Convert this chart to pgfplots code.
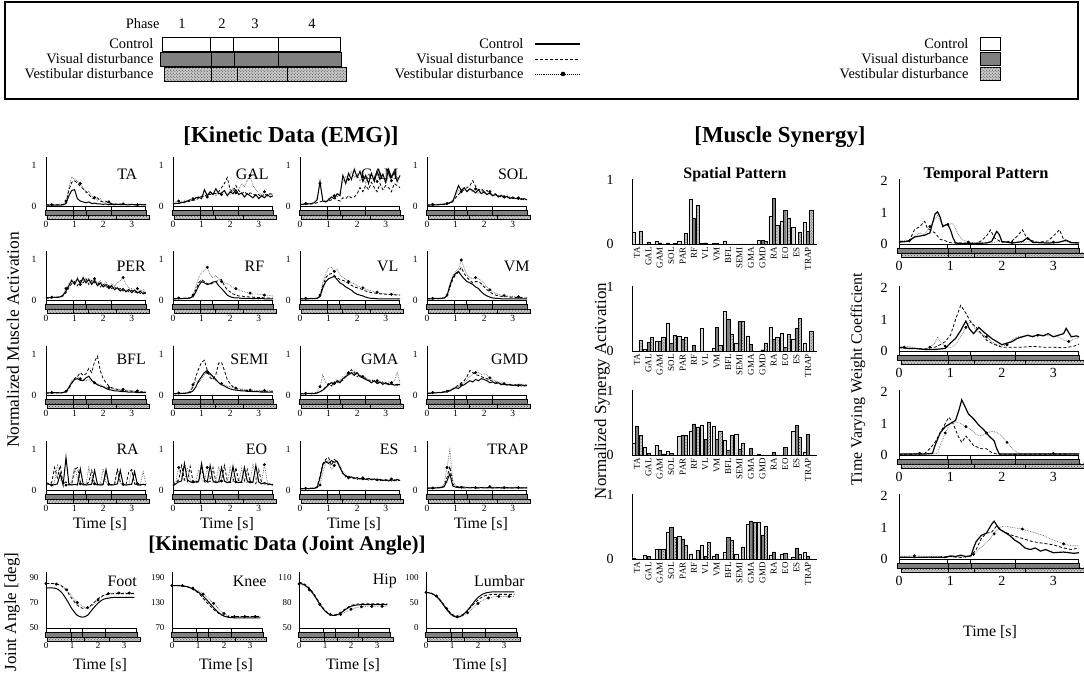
\documentclass[border=0pt]{standalone}
\usepackage{fontspec}
\setmainfont{Liberation Serif}
\usepackage{pgfplots}
\pgfplotsset{compat=1.18}
\usepackage{pgfplotstable}
\usetikzlibrary{patterns}

\newcommand\fs[1]{\fontsize{#1}{#1}\selectfont}

\tikzset{
 pb/.style={line width=0.6bp, draw=black},
 vestfill/.style={fill=black!22, postaction={pattern=crosshatch dots, pattern color=black!75}},
}

\pgfplotsset{
 ctrl/.style={black, line width=1bp, no markers},
 vis/.style={black, line width=0.8bp, dash pattern=on 3bp off 2bp, no markers},
 vest/.style={black!60, line width=0.7bp, densely dotted, mark=*, mark size=1.1bp, mark repeat=5, mark phase=3, mark options={solid, fill=black, draw=black}},
 base/.style={scale only axis, axis lines=left, axis line style={-, line width=0.8bp}, x axis line style={draw=none}, major tick length=0pt, clip=false, xmin=0, xmax=3.5, xtick={0,1,2,3}, /pgf/number format/assume math mode=true, tick label style={font=\fs{9.5}}},
 emg/.style={base, width=100bp, height=49bp, ymin=0, ymax=1.2, ytick={0,1}, xticklabel style={yshift=-11.5bp}, yticklabel style={xshift=-6bp}},
 ja/.style={base, width=91bp, height=56bp, tick label style={font=\fs{9}}, xticklabel style={yshift=-11.5bp}, yticklabel style={xshift=-4bp}},
 tp/.style={base, width=180bp, height=64.6bp, ymin=0, ymax=2.05, ytick={0,1,2}, tick label style={font=\fs{14}}, xticklabel style={yshift=-14bp}, yticklabel style={xshift=-8bp}},
 sp/.style={scale only axis, axis lines=left, axis line style={-, line width=0.8bp}, x axis line style={line width=0.5bp}, major tick length=0pt, clip=false, width=185bp, height=65bp, xmin=-0.44, xmax=15.8, ymin=0, ymax=1.02, ytick={0,1}, xtick={0,...,15}, xticklabels={TA,GAL,GAM,SOL,PAR,RF,VL,VM,BFL,SEMI,GMA,GMD,RA,EO,ES,TRAP}, xticklabel style={rotate=90, anchor=east, font=\fs{9}}, yticklabel style={font=\fs{14}, xshift=-15bp}, /pgf/number format/assume math mode=true},
}

\newcommand{\phasebars}[1]{%
 \draw[pb, fill=white] (axis cs:0,#1) rectangle ([yshift=-4.5bp]axis cs:3.49,#1);
 \draw[pb] (axis cs:0.94,#1) -- ([yshift=-4.5bp]axis cs:0.94,#1);
 \draw[pb] (axis cs:1.39,#1) -- ([yshift=-4.5bp]axis cs:1.39,#1);
 \draw[pb] (axis cs:2.27,#1) -- ([yshift=-4.5bp]axis cs:2.27,#1);
 \draw[pb, fill=black!50] ([yshift=-4.5bp]axis cs:-0.04,#1) rectangle ([yshift=-9bp]axis cs:3.51,#1);
 \draw[pb] ([yshift=-4.5bp]axis cs:0.96,#1) -- ([yshift=-9bp]axis cs:0.96,#1);
 \draw[pb] ([yshift=-4.5bp]axis cs:1.41,#1) -- ([yshift=-9bp]axis cs:1.41,#1);
 \draw[pb] ([yshift=-4.5bp]axis cs:2.27,#1) -- ([yshift=-9bp]axis cs:2.27,#1);
 \draw[pb, vestfill] ([yshift=-9bp]axis cs:0.04,#1) rectangle ([yshift=-13bp]axis cs:3.61,#1);
 \draw[pb] ([yshift=-9bp]axis cs:0.96,#1) -- ([yshift=-13bp]axis cs:0.96,#1);
 \draw[pb] ([yshift=-9bp]axis cs:1.47,#1) -- ([yshift=-13bp]axis cs:1.47,#1);
 \draw[pb] ([yshift=-9bp]axis cs:2.45,#1) -- ([yshift=-13bp]axis cs:2.45,#1);
}

\newcommand{\emgpanel}[6]{%
\begin{axis}[emg, at={(#1bp,#2bp)}, anchor=south west]
\addplot[vest] table[x=t,y=s]{#3};
\addplot[vis] table[x=t,y=v]{#3};
\addplot[ctrl] table[x=t,y=c]{#3};
\phasebars{0}
\node[anchor=east, font=\fs{16}, inner sep=0pt] at (axis cs:#5,#6) {#4};
\end{axis}}

\newcommand{\japanel}[8]{% x, ymin, ymax, ytick, table, label, rel x
\begin{axis}[ja, at={(#1bp,46bp)}, anchor=south west, ymin=#2, ymax=#3, ytick={#4}]
\addplot[vest, mark repeat=2, mark phase=1, smooth] table[x=t,y=s]{#5};
\addplot[vis, smooth] table[x=t,y=v]{#5};
\addplot[ctrl, smooth] table[x=t,y=c]{#5};
\phasebars{#2}
\node[anchor=east, font=\fs{16}, inner sep=0pt] at (rel axis cs:#7,0.84) {#6};
\end{axis}}

\newcommand{\tppanel}[4]{%
\begin{axis}[tp, at={(899bp,#1bp)}, anchor=south west]
\addplot[vest, mark repeat=4, mark phase=2] coordinates {#4};
\addplot[vis] coordinates {#3};
\addplot[ctrl, line width=1.2bp] coordinates {#2};
\phasebars{0}
\end{axis}}

\newcommand{\sppanel}[2]{%
\begin{axis}[sp, at={(632bp,#1bp)}, anchor=south west]
\addplot[ybar, bar width=3.2bp, bar shift=-3.4bp, fill=black!15, draw=black, line width=0.4bp] table[x=i,y=c]{#2};
\addplot[ybar, bar width=3.2bp, bar shift=0bp, fill=black!50, draw=black, line width=0.4bp] table[x=i,y=v]{#2};
\addplot[ybar, bar width=3.2bp, bar shift=3.4bp, draw=black, line width=0.4bp, vestfill] table[x=i,y=s]{#2};
\end{axis}}

% ---------------- EMG data: t control visual vestibular
\pgfplotstableread{
t c v s
0.0 .02 .02 .03
0.1 .02 .03 .02
0.2 .03 .02 .03
0.3 .02 .03 .02
0.4 .03 .02 .04
0.5 .02 .03 .03
0.6 .03 .04 .04
0.7 .06 .08 .12
0.8 .25 .38 .45
0.9 .38 .58 .72
1.0 .40 .62 .66
1.1 .18 .56 .60
1.2 .12 .48 .55
1.3 .10 .42 .44
1.4 .08 .36 .32
1.5 .10 .28 .36
1.6 .06 .20 .24
1.7 .07 .17 .21
1.8 .05 .20 .14
1.9 .05 .12 .18
2.0 .04 .10 .10
2.1 .05 .12 .08
2.2 .03 .07 .10
2.3 .04 .06 .06
2.4 .03 .05 .07
2.5 .04 .04 .05
2.6 .03 .05 .04
2.7 .04 .03 .05
2.8 .03 .04 .04
2.9 .03 .03 .05
3.0 .04 .04 .03
3.1 .03 .03 .04
3.2 .03 .04 .03
3.3 .04 .03 .04
3.4 .03 .03 .03
3.5 .03 .04 .03
}\tabTA
\pgfplotstableread{
t c v s
0.0 .05 .05 .08
0.1 .06 .07 .10
0.2 .07 .06 .12
0.3 .08 .09 .10
0.4 .10 .08 .14
0.5 .12 .10 .12
0.6 .15 .12 .16
0.7 .14 .15 .18
0.8 .20 .14 .22
0.9 .22 .20 .18
1.0 .18 .24 .25
1.1 .40 .22 .28
1.2 .25 .30 .22
1.3 .35 .28 .35
1.4 .28 .32 .30
1.5 .42 .30 .25
1.6 .30 .35 .32
1.7 .32 .45 .28
1.8 .38 .55 .35
1.9 .25 .70 .30
2.0 .35 .40 .28
2.1 .30 .35 .45
2.2 .40 .50 .32
2.3 .28 .38 .40
2.4 .32 .30 .55
2.5 .22 .35 .48
2.6 .30 .28 .62
2.7 .25 .32 .75
2.8 .20 .30 .50
2.9 .28 .25 .40
3.0 .18 .28 .32
3.1 .25 .22 .28
3.2 .20 .30 .35
3.3 .28 .25 .25
3.4 .22 .30 .32
3.5 .25 .28 .28
}\tabGAL
\pgfplotstableread{
t c v s
0.0 .04 .03 .05
0.1 .04 .04 .05
0.2 .05 .04 .06
0.3 .05 .05 .06
0.4 .06 .05 .07
0.5 .08 .06 .08
0.6 .15 .08 .20
0.7 .60 .10 .55
0.8 .12 .12 .15
0.9 .10 .10 .12
1.0 .15 .12 .18
1.1 .22 .15 .20
1.2 .18 .20 .25
1.3 .30 .15 .22
1.4 .25 .12 .35
1.5 .75 .20 .60
1.6 .55 .18 .72
1.7 .80 .25 .65
1.8 .65 .20 .85
1.9 .90 .22 .70
2.0 .70 .30 .78
2.1 .85 .45 .60
2.2 .60 .35 .72
2.3 .75 .50 .55
2.4 .55 .40 .80
2.5 .80 .58 .65
2.6 .60 .45 .75
2.7 .85 .35 .60
2.8 .65 .55 .82
2.9 .78 .40 .70
3.0 .58 .50 .55
3.1 .90 .45 .75
3.2 .70 .35 .62
3.3 .82 .55 .85
3.4 .60 .50 .70
3.5 .75 .45 .65
}\tabGAM
\pgfplotstableread{
t c v s
0.0 .02 .02 .03
0.1 .03 .02 .03
0.2 .02 .03 .04
0.3 .03 .03 .03
0.4 .03 .04 .04
0.5 .04 .03 .05
0.6 .04 .05 .05
0.7 .05 .06 .06
0.8 .08 .07 .09
0.9 .10 .12 .14
1.0 .30 .20 .25
1.1 .50 .28 .40
1.2 .38 .35 .35
1.3 .45 .40 .42
1.4 .35 .45 .38
1.5 .42 .50 .40
1.6 .38 .62 .35
1.7 .32 .48 .42
1.8 .40 .40 .30
1.9 .30 .42 .38
2.0 .35 .35 .32
2.1 .28 .38 .28
2.2 .32 .30 .35
2.3 .25 .28 .26
2.4 .28 .30 .30
2.5 .22 .25 .24
2.6 .26 .22 .28
2.7 .20 .25 .22
2.8 .24 .20 .25
2.9 .18 .22 .20
3.0 .22 .18 .22
3.1 .18 .20 .18
3.2 .20 .16 .20
3.3 .16 .18 .17
3.4 .18 .15 .18
3.5 .15 .16 .16
}\tabSOL
\pgfplotstableread{
t c v s
0.0 .05 .04 .06
0.1 .06 .05 .05
0.2 .05 .06 .07
0.3 .07 .06 .06
0.4 .06 .07 .08
0.5 .08 .07 .07
0.6 .12 .10 .15
0.7 .22 .18 .28
0.8 .35 .30 .40
0.9 .48 .40 .50
1.0 .38 .45 .42
1.1 .52 .35 .55
1.2 .40 .48 .38
1.3 .55 .42 .50
1.4 .42 .52 .45
1.5 .50 .38 .55
1.6 .38 .48 .40
1.7 .48 .42 .52
1.8 .35 .45 .38
1.9 .42 .32 .48
2.0 .32 .40 .35
2.1 .38 .30 .45
2.2 .28 .35 .32
2.3 .35 .28 .40
2.4 .25 .32 .35
2.5 .30 .25 .42
2.6 .22 .28 .48
2.7 .28 .22 .55
2.8 .20 .25 .38
2.9 .26 .20 .30
3.0 .18 .24 .28
3.1 .24 .18 .25
3.2 .17 .22 .28
3.3 .22 .16 .22
3.4 .15 .20 .25
3.5 .18 .15 .20
}\tabPER
\pgfplotstableread{
t c v s
0.0 .03 .03 .04
0.1 .03 .04 .03
0.2 .04 .03 .05
0.3 .03 .04 .04
0.4 .04 .04 .05
0.5 .04 .05 .05
0.6 .05 .05 .06
0.7 .08 .10 .12
0.8 .20 .25 .35
0.9 .35 .42 .55
1.0 .45 .50 .68
1.1 .42 .45 .72
1.2 .38 .40 .80
1.3 .40 .38 .62
1.4 .44 .42 .55
1.5 .45 .45 .60
1.6 .35 .48 .52
1.7 .28 .50 .45
1.8 .20 .35 .42
1.9 .12 .25 .40
2.0 .08 .20 .35
2.1 .06 .15 .30
2.2 .05 .12 .28
2.3 .05 .10 .25
2.4 .04 .10 .22
2.5 .04 .08 .20
2.6 .04 .08 .18
2.7 .04 .07 .17
2.8 .03 .07 .15
2.9 .04 .06 .15
3.0 .03 .06 .14
3.1 .04 .06 .13
3.2 .03 .05 .12
3.3 .03 .05 .12
3.4 .03 .05 .11
3.5 .03 .05 .10
}\tabRF
\pgfplotstableread{
t c v s
0.0 .03 .03 .04
0.1 .03 .03 .03
0.2 .03 .04 .04
0.3 .03 .03 .04
0.4 .04 .03 .04
0.5 .03 .04 .04
0.6 .04 .04 .05
0.7 .08 .10 .12
0.8 .30 .35 .45
0.9 .45 .55 .65
1.0 .52 .62 .78
1.1 .55 .65 .80
1.2 .58 .60 .70
1.3 .50 .55 .75
1.4 .42 .50 .62
1.5 .38 .48 .55
1.6 .32 .45 .50
1.7 .28 .40 .45
1.8 .24 .36 .42
1.9 .18 .32 .40
2.0 .14 .30 .35
2.1 .12 .28 .32
2.2 .10 .25 .30
2.3 .07 .22 .27
2.4 .05 .20 .24
2.5 .04 .18 .22
2.6 .04 .17 .20
2.7 .03 .16 .19
2.8 .03 .15 .17
2.9 .03 .15 .16
3.0 .03 .14 .15
3.1 .03 .14 .14
3.2 .03 .13 .14
3.3 .03 .13 .13
3.4 .03 .12 .13
3.5 .03 .12 .12
}\tabVL
\pgfplotstableread{
t c v s
0.0 .03 .03 .04
0.1 .03 .04 .03
0.2 .03 .03 .04
0.3 .04 .03 .04
0.4 .03 .04 .04
0.5 .04 .04 .05
0.6 .05 .05 .05
0.7 .10 .10 .12
0.8 .35 .30 .40
0.9 .55 .50 .60
1.0 .65 .62 .70
1.1 .70 .68 .75
1.2 .60 .80 .98
1.3 .52 .65 .78
1.4 .45 .55 .62
1.5 .42 .48 .55
1.6 .38 .42 .52
1.7 .32 .45 .55
1.8 .28 .45 .52
1.9 .20 .40 .48
2.0 .14 .32 .40
2.1 .10 .25 .32
2.2 .07 .20 .25
2.3 .05 .15 .20
2.4 .04 .12 .16
2.5 .04 .10 .14
2.6 .03 .09 .12
2.7 .03 .08 .11
2.8 .03 .08 .10
2.9 .03 .07 .09
3.0 .03 .07 .09
3.1 .03 .06 .08
3.2 .03 .06 .08
3.3 .03 .06 .07
3.4 .03 .05 .07
3.5 .03 .05 .07
}\tabVM
\pgfplotstableread{
t c v s
0.0 .05 .04 .06
0.1 .05 .05 .05
0.2 .05 .05 .06
0.3 .06 .05 .05
0.4 .05 .06 .06
0.5 .05 .05 .06
0.6 .06 .06 .07
0.7 .08 .08 .09
0.8 .18 .15 .20
0.9 .30 .28 .35
1.0 .38 .40 .42
1.1 .40 .45 .45
1.2 .36 .55 .40
1.3 .35 .48 .38
1.4 .42 .52 .35
1.5 .46 .65 .38
1.6 .36 .55 .32
1.7 .30 .82 .30
1.8 .25 .95 .28
1.9 .22 .60 .25
2.0 .20 .40 .22
2.1 .16 .30 .20
2.2 .13 .22 .18
2.3 .12 .18 .16
2.4 .10 .15 .14
2.5 .10 .14 .15
2.6 .09 .12 .13
2.7 .08 .11 .14
2.8 .08 .10 .12
2.9 .07 .10 .12
3.0 .07 .09 .11
3.1 .07 .09 .10
3.2 .06 .08 .10
3.3 .06 .08 .09
3.4 .06 .08 .09
3.5 .06 .07 .09
}\tabBFL
\pgfplotstableread{
t c v s
0.0 .03 .03 .04
0.1 .03 .04 .04
0.2 .04 .03 .05
0.3 .04 .04 .04
0.4 .04 .04 .05
0.5 .05 .05 .06
0.6 .06 .08 .10
0.7 .10 .20 .25
0.8 .20 .45 .35
0.9 .35 .65 .30
1.0 .45 .80 .40
1.1 .55 .85 .50
1.2 .60 .60 .55
1.3 .52 .42 .48
1.4 .45 .38 .40
1.5 .38 .50 .35
1.6 .30 .78 .30
1.7 .25 .80 .28
1.8 .22 .60 .25
1.9 .18 .38 .22
2.0 .15 .28 .20
2.1 .13 .20 .18
2.2 .12 .16 .17
2.3 .11 .14 .15
2.4 .10 .12 .15
2.5 .10 .12 .14
2.6 .09 .11 .13
2.7 .09 .10 .12
2.8 .08 .10 .12
2.9 .08 .09 .11
3.0 .08 .09 .12
3.1 .07 .09 .10
3.2 .07 .08 .11
3.3 .07 .08 .10
3.4 .07 .08 .12
3.5 .07 .08 .10
}\tabSEMI
\pgfplotstableread{
t c v s
0.0 .03 .03 .04
0.1 .03 .03 .04
0.2 .03 .04 .04
0.3 .04 .03 .04
0.4 .03 .04 .05
0.5 .04 .04 .05
0.6 .05 .05 .08
0.7 .08 .08 .20
0.8 .12 .12 .50
0.9 .18 .20 .30
1.0 .25 .28 .25
1.1 .30 .22 .32
1.2 .26 .32 .28
1.3 .35 .28 .38
1.4 .30 .38 .32
1.5 .40 .35 .45
1.6 .45 .48 .42
1.7 .50 .55 .55
1.8 .55 .62 .50
1.9 .48 .55 .60
2.0 .55 .45 .50
2.1 .45 .50 .48
2.2 .42 .40 .45
2.3 .38 .42 .40
2.4 .35 .35 .38
2.5 .30 .38 .35
2.6 .35 .32 .32
2.7 .28 .30 .35
2.8 .32 .28 .30
2.9 .26 .30 .33
3.0 .30 .27 .28
3.1 .25 .28 .32
3.2 .28 .25 .30
3.3 .24 .26 .35
3.4 .26 .24 .55
3.5 .25 .25 .30
}\tabGMA
\pgfplotstableread{
t c v s
0.0 .04 .04 .05
0.1 .04 .05 .05
0.2 .05 .05 .06
0.3 .05 .06 .06
0.4 .06 .06 .07
0.5 .06 .07 .07
0.6 .07 .08 .08
0.7 .08 .10 .09
0.8 .10 .12 .12
0.9 .14 .15 .15
1.0 .18 .20 .18
1.1 .16 .24 .20
1.2 .22 .30 .25
1.3 .25 .35 .30
1.4 .30 .45 .38
1.5 .35 .60 .45
1.6 .32 .55 .52
1.7 .38 .50 .55
1.8 .35 .48 .55
1.9 .40 .45 .50
2.0 .38 .42 .52
2.1 .35 .40 .48
2.2 .30 .36 .42
2.3 .32 .34 .38
2.4 .28 .32 .35
2.5 .30 .28 .32
2.6 .25 .27 .30
2.7 .27 .25 .28
2.8 .24 .26 .26
2.9 .26 .24 .27
3.0 .23 .25 .25
3.1 .25 .23 .26
3.2 .22 .25 .24
3.3 .25 .22 .27
3.4 .22 .24 .25
3.5 .24 .22 .26
}\tabGMD
\pgfplotstableread{
t c v s
0.0 .15 .18 .20
0.1 .14 .15 .15
0.2 .12 .18 .12
0.3 .13 .55 .20
0.4 .15 .30 .60
0.5 .40 .60 .25
0.6 .12 .15 .18
0.7 .80 .20 .12
0.8 .15 .12 .15
0.9 .12 .14 .20
1.0 .14 .50 .55
1.1 .12 .55 .30
1.2 .52 .20 .15
1.3 .15 .12 .14
1.4 .12 .13 .15
1.5 .13 .20 .55
1.6 .14 .48 .20
1.7 .48 .15 .15
1.8 .14 .12 .13
1.9 .12 .14 .15
2.0 .13 .15 .52
2.1 .50 .45 .18
2.2 .15 .12 .14
2.3 .12 .13 .12
2.4 .13 .14 .15
2.5 .15 .50 .52
2.6 .48 .20 .15
2.7 .14 .12 .14
2.8 .12 .13 .12
2.9 .13 .45 .15
3.0 .14 .50 .52
3.1 .45 .15 .18
3.2 .13 .12 .15
3.3 .12 .13 .12
3.4 .14 .14 .45
3.5 .12 .13 .15
}\tabRA
\pgfplotstableread{
t c v s
0.0 .10 .12 .15
0.1 .15 .18 .20
0.2 .20 .25 .55
0.3 .22 .60 .30
0.4 .65 .25 .22
0.5 .25 .20 .55
0.6 .20 .58 .25
0.7 .18 .22 .20
0.8 .20 .18 .22
0.9 .22 .20 .50
1.0 .65 .55 .25
1.1 .25 .20 .20
1.2 .20 .18 .55
1.3 .60 .22 .22
1.4 .22 .55 .18
1.5 .18 .20 .20
1.6 .20 .18 .58
1.7 .55 .25 .22
1.8 .22 .60 .20
1.9 .18 .22 .18
2.0 .20 .18 .55
2.1 .58 .20 .22
2.2 .20 .55 .20
2.3 .18 .20 .18
2.4 .20 .18 .52
2.5 .55 .22 .20
2.6 .22 .50 .18
2.7 .18 .20 .20
2.8 .20 .18 .65
2.9 .60 .15 .25
3.0 .20 .50 .18
3.1 .15 .18 .20
3.2 .18 .15 .62
3.3 .15 .12 .20
3.4 .14 .15 .15
3.5 .12 .13 .14
}\tabEO
\pgfplotstableread{
t c v s
0.0 .03 .03 .04
0.1 .03 .04 .03
0.2 .04 .03 .04
0.3 .03 .04 .04
0.4 .04 .04 .05
0.5 .04 .05 .05
0.6 .06 .08 .06
0.7 .30 .35 .12
0.8 .62 .65 .45
0.9 .70 .75 .65
1.0 .65 .80 .72
1.1 .72 .60 .50
1.2 .68 .75 .60
1.3 .70 .70 .72
1.4 .55 .55 .58
1.5 .40 .42 .45
1.6 .35 .32 .38
1.7 .30 .35 .30
1.8 .32 .28 .33
1.9 .28 .30 .28
2.0 .30 .26 .31
2.1 .27 .29 .27
2.2 .29 .25 .30
2.3 .26 .28 .25
2.4 .28 .24 .29
2.5 .25 .27 .26
2.6 .27 .24 .28
2.7 .24 .26 .25
2.8 .26 .23 .27
2.9 .23 .25 .24
3.0 .25 .23 .26
3.1 .22 .26 .24
3.2 .25 .22 .27
3.3 .23 .25 .22
3.4 .26 .22 .25
3.5 .23 .24 .23
}\tabES
\pgfplotstableread{
t c v s
0.0 .04 .05 .05
0.1 .05 .04 .06
0.2 .04 .05 .05
0.3 .05 .05 .06
0.4 .05 .06 .07
0.5 .06 .06 .08
0.6 .08 .10 .15
0.7 .22 .30 .55
0.8 .40 .58 .98
0.9 .10 .15 .25
1.0 .07 .09 .10
1.1 .06 .08 .08
1.2 .06 .07 .07
1.3 .05 .07 .08
1.4 .06 .06 .07
1.5 .05 .07 .06
1.6 .06 .06 .07
1.7 .05 .06 .06
1.8 .05 .05 .07
1.9 .06 .06 .06
2.0 .05 .05 .07
2.1 .05 .06 .06
2.2 .06 .05 .08
2.3 .05 .05 .06
2.4 .05 .06 .07
2.5 .06 .05 .06
2.6 .05 .05 .07
2.7 .05 .06 .06
2.8 .06 .05 .07
2.9 .05 .05 .06
3.0 .05 .05 .07
3.1 .05 .06 .06
3.2 .05 .05 .06
3.3 .05 .05 .06
3.4 .05 .05 .06
3.5 .05 .05 .06
}\tabTRAP
% ---------------- joint angles
\pgfplotstableread{
t c v s
0.0 81.5 85 85
0.2 81.5 85 85
0.4 81 84.5 84.5
0.6 78 83 83.5
0.8 72 79 80
1.0 65 73 75
1.2 60 68 70
1.4 58.5 65.5 67
1.6 60 66 66
1.8 65 69 68
2.0 69.5 73 72
2.2 72.5 75.5 75.5
2.4 73.5 76.5 77
2.6 74 77 77.5
2.8 74 77 77.5
3.0 74 77 77.5
3.2 74 77 77.5
3.4 74 77 77.5
}\tabFoot
\pgfplotstableread{
t c v s
0.0 170 170 170
0.2 170 170 170
0.4 169 169 170
0.6 167 167 168
0.8 162 161 164
1.0 155 153 158
1.2 145 140 150
1.4 132 126 140
1.6 118 114 128
1.8 106 104 115
2.0 98 99 104
2.2 95 97 99
2.4 94 97 97
2.6 94 97 97
2.8 94 97 97
3.0 94 97 97
3.2 94 97 97
3.4 94 97 98
}\tabKnee
\pgfplotstableread{
t c v s
0.0 103 104 102
0.2 101 102 100
0.4 96 97 95
0.6 88 89 87
0.8 78 79 78
1.0 70 71 70
1.2 65.5 66 66
1.4 65 65.5 65
1.6 67.5 68.5 66
1.8 72 73 69
2.0 75.5 76.5 72
2.2 77 78 74
2.4 77.5 78.5 75
2.6 77.5 78.5 75.5
2.8 77.5 78.5 75.5
3.0 77.5 78.5 75.5
3.2 77.5 78.5 75.5
3.4 77.5 78.5 75.5
}\tabHip
\pgfplotstableread{
t c v s
0.0 70 70 70
0.2 68 68 69
0.4 62 63 63
0.6 50 52 52
0.8 36 38 38
1.0 25 27 27
1.2 21 23 22
1.4 25 26 23
1.6 35 34 30
1.8 48 45 39
2.0 60 55 48
2.2 67 62 55
2.4 70 65 59
2.6 71 66 61
2.8 71 66 62
3.0 71 66 62
3.2 71 66 62
3.4 71 66 62
}\tabLumbar
% ---------------- spatial patterns: i control visual vestibular
\pgfplotstableread{
i c v s
0 .19 0 .20
1 0 .03 0
2 .05 .02 0
3 .02 0 .01
4 .04 0 .17
5 .70 .41 .61
6 .01 .02 0
7 .01 .01 0
8 .05 0 0
9 0 0 0
10 0 0 0
11 .06 .06 .05
12 .43 .72 .30
13 .36 .53 .41
14 .27 0 .18
15 .34 .20 .53
}\spA
\pgfplotstableread{
i c v s
0 0 0 .17
1 .03 .14 .21
2 .15 .15 .22
3 .43 .12 .25
4 .23 .18 .21
5 0 .09 0
6 .35 0 0
7 .05 .37 .09
8 .62 .50 .26
9 .12 .47 .46
10 .24 .10 0
11 0 .02 .13
12 .37 .18 .22
13 .28 .06 .26
14 .19 .35 .51
15 .13 0 .31
}\spB
\pgfplotstableread{
i c v s
0 .19 .45 .31
1 .13 .03 0
2 .15 .07 .02
3 .06 .03 0
4 .29 .31 .31
5 .37 .49 .44
6 .46 .25 .52
7 .45 .25 .38
8 .23 .07 .31
9 .33 .09 .18
10 0 .10 0
11 .01 0 0
12 0 .04 0
13 0 .12 0
14 .38 .46 .28
15 .04 .32 0
}\spC
\pgfplotstableread{
i c v s
0 .02 0 0
1 .06 .04 0
2 .15 .15 .15
3 .42 .50 .34
4 .35 .31 .22
5 .07 0 .14
6 .21 .04 .27
7 .04 .08 0
8 .10 .34 .29
9 .08 0 .19
10 .54 .60 .58
11 .57 .38 .51
12 .06 .11 0
13 .08 .09 0
14 .03 .17 .07
15 .10 .05 0
}\spD

\begin{document}
\begin{tikzpicture}
\useasboundingbox (0,0) rectangle (1084bp,674bp);
% ---------------- legend box
\draw[line width=1.2bp] (5bp,575bp) rectangle (1078bp,672bp);
\node[anchor=east,font=\fs{14.5}] at (163bp,650bp) {Phase};
\foreach \x/\n in {182/1,222/2,255/3,312/4} \node[font=\fs{14.5}] at (\x bp,650bp) {\n};
\node[anchor=east,font=\fs{14.5}] at (157bp,630bp) {Control};
\node[anchor=east,font=\fs{14.5}] at (157bp,615bp) {Visual disturbance};
\node[anchor=east,font=\fs{14.5}] at (157bp,600bp) {Vestibular disturbance};
\draw[line width=0.8bp, fill=white] (162bp,623bp) rectangle (340bp,637bp);
\foreach \x in {210,233,278} \draw[line width=0.8bp] (\x bp,623bp) -- (\x bp,637bp);
\draw[line width=0.8bp, fill=black!50] (160bp,608bp) rectangle (341bp,622bp);
\foreach \x in {211,234,278} \draw[line width=0.8bp] (\x bp,608bp) -- (\x bp,622bp);
\draw[line width=0.8bp, vestfill] (164bp,593bp) rectangle (346bp,607bp);
\foreach \x in {211,237,287} \draw[line width=0.8bp] (\x bp,593bp) -- (\x bp,607bp);
% middle legend
\node[anchor=east,font=\fs{14.5}] at (527bp,630bp) {Control};
\node[anchor=east,font=\fs{14.5}] at (527bp,615bp) {Visual disturbance};
\node[anchor=east,font=\fs{14.5}] at (527bp,600bp) {Vestibular disturbance};
\draw[line width=1.2bp] (535bp,630bp) -- (580bp,630bp);
\draw[line width=0.9bp, dash pattern=on 3bp off 2bp] (535bp,615bp) -- (580bp,615bp);
\draw[line width=0.9bp, densely dotted] (535bp,600bp) -- (580bp,600bp);
\fill (563bp,600bp) circle (2.3bp);
% right legend
\node[anchor=east,font=\fs{14.5}] at (972bp,630bp) {Control};
\node[anchor=east,font=\fs{14.5}] at (972bp,615bp) {Visual disturbance};
\node[anchor=east,font=\fs{14.5}] at (972bp,600bp) {Vestibular disturbance};
\draw[line width=0.8bp, fill=white] (980bp,624bp) rectangle (1000bp,637bp);
\draw[line width=0.8bp, fill=black!50] (980bp,609bp) rectangle (1000bp,622bp);
\draw[line width=0.8bp, vestfill] (980bp,594bp) rectangle (1000bp,607bp);
% ---------------- titles
\node[font=\bfseries\fs{23}] at (291bp,537bp) {[Kinetic Data (EMG)]};
\node[font=\bfseries\fs{23}] at (780bp,537bp) {[Muscle Synergy]};
\node[font=\bfseries\fs{21}] at (287bp,128bp) {[Kinematic Data (Joint Angle)]};
\node[font=\bfseries\fs{16}] at (735bp,499bp) {Spatial Pattern};
\node[font=\bfseries\fs{16.5}] at (986bp,499bp) {Temporal Pattern};
\node[rotate=90,font=\fs{17.5}] at (13bp,334bp) {Normalized Muscle Activation};
\node[rotate=90,font=\fs{17}] at (12bp,62bp) {Joint Angle [deg]};
\node[rotate=90,font=\fs{17}] at (602bp,283bp) {Normalized Synergy Activation};
\node[rotate=90,font=\fs{16}] at (858bp,295bp) {Time Varying Weight Coefficient};
\foreach \x in {100,227,354,481} \node[font=\fs{16}] at (\x bp,150bp) {Time [s]};
\foreach \x in {100,226,353,480} \node[font=\fs{16}] at (\x bp,9bp) {Time [s]};
\node[font=\fs{16}] at (990bp,42bp) {Time [s]};
% ---------------- EMG panels
\emgpanel{46}{468}{\tabTA}{TA}{3.2}{0.78}
\emgpanel{173}{468}{\tabGAL}{GAL}{3.35}{0.78}
\emgpanel{300}{468}{\tabGAM}{GAM}{3.45}{0.78}
\emgpanel{427}{468}{\tabSOL}{SOL}{3.55}{0.78}
\emgpanel{46}{374}{\tabPER}{PER}{3.5}{0.83}
\emgpanel{173}{374}{\tabRF}{RF}{3.2}{0.83}
\emgpanel{300}{374}{\tabVL}{VL}{3.45}{0.83}
\emgpanel{427}{374}{\tabVM}{VM}{3.6}{0.83}
\emgpanel{46}{279}{\tabBFL}{BFL}{3.5}{0.88}
\emgpanel{173}{279}{\tabSEMI}{SEMI}{3.35}{0.88}
\emgpanel{300}{279}{\tabGMA}{GMA}{3.45}{0.88}
\emgpanel{427}{279}{\tabGMD}{GMD}{3.55}{0.88}
\emgpanel{46}{184}{\tabRA}{RA}{3.25}{1.0}
\emgpanel{173}{184}{\tabEO}{EO}{3.3}{1.0}
\emgpanel{300}{184}{\tabES}{ES}{3.45}{1.0}
\emgpanel{427}{184}{\tabTRAP}{TRAP}{3.55}{1.0}
% ---------------- joint angles
\japanel{46}{50}{94}{50,70,90}{\tabFoot}{Foot}{1.0}{}
\japanel{172}{70}{202}{70,130,190}{\tabKnee}{Knee}{1.04}{}
\japanel{299}{50}{116}{50,80,110}{\tabHip}{Hip}{1.077}{}
\japanel{426}{0}{110}{0,50,100}{\tabLumbar}{Lumbar}{1.086}{}
% ---------------- spatial patterns
\sppanel{430}{\spA}
\sppanel{323}{\spB}
\sppanel{219}{\spC}
\sppanel{115}{\spD}
% ---------------- temporal patterns
\tppanel{430}
{(0,.08) (0.1,.07) (0.2,.10) (0.3,.22) (0.4,.25) (0.5,.28) (0.6,.35) (0.7,.95) (0.75,1.02) (0.8,.85) (0.85,.55) (0.9,.6) (0.95,.62) (1.0,.45) (1.05,.2) (1.1,.03) (1.2,.02) (1.5,.02) (1.7,.03) (1.8,.08) (1.9,.4) (1.95,.3) (2.0,.08) (2.2,.03) (2.4,.08) (2.5,.2) (2.6,.05) (2.9,.03) (3.1,.05) (3.25,.12) (3.35,.04) (3.5,.03)}
{(0,.05) (0.2,.1) (0.3,.45) (0.4,.55) (0.5,.72) (0.55,.5) (0.6,.45) (0.7,.35) (0.8,.15) (0.9,.1) (1.0,.04) (1.5,.02) (1.6,.1) (1.7,.25) (1.78,.45) (1.85,.2) (2.0,.05) (2.2,.1) (2.3,.25) (2.4,.45) (2.5,.15) (2.7,.05) (2.9,.1) (3.0,.25) (3.12,.45) (3.2,.15) (3.35,.05) (3.5,.05)}
{(0,.1) (0.2,.1) (0.3,.25) (0.4,.35) (0.5,.3) (0.6,.55) (0.7,.8) (0.75,.9) (0.85,.6) (0.95,.62) (1.05,.65) (1.15,.3) (1.25,.12) (1.35,.06) (1.5,.03) (1.8,.05) (2.0,.08) (2.2,.05) (2.4,.05) (2.6,.08) (2.8,.05) (3.0,.06) (3.2,.08) (3.4,.05) (3.5,.05)}
\tppanel{323}
{(0,.12) (0.1,.1) (0.2,.08) (0.3,.08) (0.5,.05) (0.7,.05) (0.9,.08) (1.0,.25) (1.1,.4) (1.2,.65) (1.3,.95) (1.37,.7) (1.45,.55) (1.55,.75) (1.65,.6) (1.8,.4) (1.9,.3) (2.0,.2) (2.1,.25) (2.2,.3) (2.3,.4) (2.4,.45) (2.5,.5) (2.6,.45) (2.7,.52) (2.8,.48) (2.9,.55) (3.0,.45) (3.1,.5) (3.2,.55) (3.25,.72) (3.35,.45) (3.45,.48) (3.5,.45)}
{(0,.1) (0.3,.08) (0.5,.06) (0.6,.1) (0.7,.12) (0.8,.2) (0.9,.3) (1.0,.5) (1.1,1.0) (1.2,1.45) (1.3,1.2) (1.4,.9) (1.5,.75) (1.6,.55) (1.7,.35) (1.8,.25) (1.9,.18) (2.0,.12) (2.2,.12) (2.4,.12) (2.6,.15) (2.8,.12) (3.0,.12) (3.2,.1) (3.4,.15) (3.5,.22)}
{(0,.15) (0.1,.12) (0.2,.15) (0.3,.1) (0.5,.05) (0.6,.12) (0.7,.25) (0.75,.45) (0.8,.3) (0.9,.15) (1.0,.1) (1.1,.2) (1.2,.45) (1.3,.75) (1.4,.95) (1.5,.65) (1.6,.55) (1.7,.45) (1.8,.3) (1.9,.2) (2.0,.15) (2.1,.2) (2.2,.35) (2.3,.45) (2.5,.48) (2.7,.5) (2.9,.5) (3.1,.45) (3.2,.35) (3.3,.3) (3.4,.38) (3.5,.42)}
\tppanel{219}
{(0,.03) (0.5,.03) (0.65,.05) (0.7,.3) (0.8,.7) (0.9,.9) (1.0,1.0) (1.1,1.1) (1.17,1.45) (1.22,1.75) (1.28,1.55) (1.35,1.3) (1.45,1.15) (1.55,.95) (1.65,.8) (1.75,.6) (1.85,.45) (1.9,.2) (1.95,.03) (2.2,.03) (3.5,.03)}
{(0,.02) (0.3,.03) (0.5,.05) (0.6,.2) (0.7,.4) (0.8,.7) (0.9,1.0) (0.97,1.2) (1.05,1.0) (1.15,.6) (1.22,.4) (1.3,.6) (1.38,.45) (1.45,.3) (1.6,.2) (1.7,.2) (1.8,.08) (1.9,.03) (2.2,.02) (3.5,.03)}
{(0,.03) (0.4,.05) (0.6,.03) (0.75,.05) (0.8,.3) (0.9,.7) (1.0,1.0) (1.1,1.05) (1.2,1.0) (1.3,.9) (1.4,.8) (1.5,.65) (1.6,.6) (1.7,.7) (1.8,.75) (1.9,.72) (2.0,.6) (2.1,.4) (2.2,.2) (2.3,.08) (2.4,.04) (3.0,.05) (3.5,.04)}
\tppanel{115}
{(0,.06) (0.3,.05) (0.6,.06) (0.9,.05) (1.0,.1) (1.1,.08) (1.2,.12) (1.3,.08) (1.4,.1) (1.45,.35) (1.5,.55) (1.6,.75) (1.7,.82) (1.8,1.1) (1.85,1.2) (1.95,.95) (2.05,.85) (2.15,.75) (2.25,.6) (2.35,.5) (2.45,.35) (2.55,.3) (2.65,.35) (2.75,.25) (2.85,.3) (3.0,.2) (3.2,.22) (3.4,.18) (3.5,.2)}
{(0,.05) (0.6,.05) (1.0,.08) (1.2,.05) (1.4,.1) (1.5,.3) (1.6,.65) (1.7,.82) (1.8,.85) (1.9,1.05) (2.0,.9) (2.2,.75) (2.4,.65) (2.6,.55) (2.8,.5) (3.0,.45) (3.2,.35) (3.35,.3) (3.5,.35)}
{(0,.08) (0.3,.1) (0.6,.08) (1.0,.06) (1.3,.05) (1.45,.15) (1.55,.3) (1.65,.45) (1.75,.6) (1.85,.8) (1.95,1.0) (2.05,1.05) (2.2,1.0) (2.4,.95) (2.6,.85) (2.8,.75) (3.0,.6) (3.2,.48) (3.35,.42) (3.5,.42)}
\end{tikzpicture}
\end{document}
